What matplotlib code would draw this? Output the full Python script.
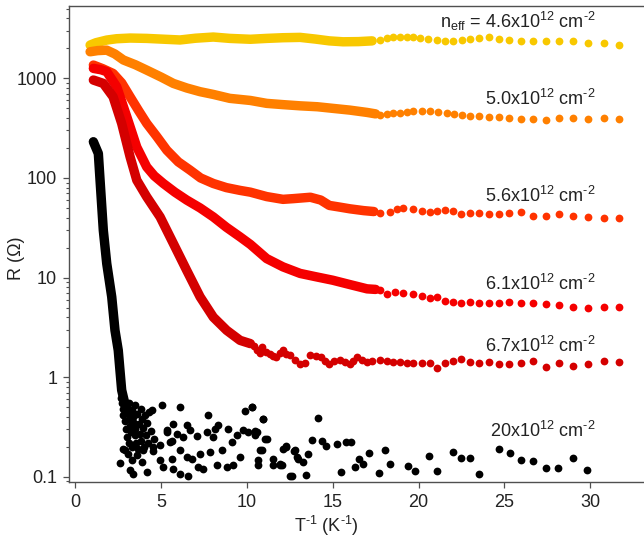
import matplotlib
matplotlib.use('Agg')
import matplotlib.pyplot as plt
from matplotlib.ticker import LogLocator, FixedLocator, FuncFormatter, NullFormatter

plt.rcParams['font.family'] = ['Liberation Sans', 'DejaVu Sans']
plt.rcParams['mathtext.fontset'] = 'custom'
plt.rcParams['mathtext.rm'] = 'Liberation Sans'
plt.rcParams['mathtext.it'] = 'Liberation Sans:italic'

# ---- data: T^-1 (1/K) vs R (Ohm) ----
# dense (overlapping) part of each curve
y46_x = [0.86, 1.2, 1.83, 2.4, 3.2, 4.16, 5.0, 6.1, 7.0, 8.04, 9.0, 10.2, 11.15, 12.1, 13.1, 14.0, 14.8, 15.6, 16.5, 17.3]
y46_r = [2160, 2280, 2425, 2500, 2540, 2520, 2480, 2430, 2530, 2600, 2520, 2470, 2520, 2560, 2580, 2480, 2380, 2330, 2340, 2380]
o50_x = [0.86, 1.3, 1.83, 2.3, 2.8, 3.5, 4.16, 5.0, 5.71, 6.5, 7.27, 8.04, 9.0, 10.2, 11.15, 12.1, 13.1, 14.1, 15.0, 16.0, 17.0, 17.5]
o50_r = [1850, 1900, 1920, 1760, 1530, 1370, 1210, 1030, 890, 800, 735, 690, 630, 600, 561, 545, 530, 519, 500, 480, 455, 440]
r56_x = [1.05, 1.6, 2.2, 2.7, 3.19, 3.7, 4.16, 4.75, 5.33, 6.0, 6.68, 7.3, 8.04, 8.8, 9.6, 10.2, 11.15, 12.1, 12.7, 13.7, 14.3, 14.8, 15.4, 16.0, 16.8, 17.4]
r56_r = [1360, 1250, 1120, 900, 653, 470, 353, 260, 190, 145, 120, 100, 88, 80, 75, 72, 65, 61, 62, 64, 60, 53, 51, 49, 47, 46]
r61_x = [1.05, 1.5, 1.83, 2.41, 3.0, 3.58, 4.16, 4.6, 5.13, 5.8, 6.49, 7.27, 8.04, 8.8, 9.6, 10.2, 11.15, 12.1, 13.1, 14.0, 15.0, 16.0, 17.0, 17.5]
r61_r = [1260, 1220, 1167, 824, 411, 204, 129, 105, 88, 72, 60, 50, 40.6, 32, 25.6, 21.5, 15.5, 12.8, 11.0, 10.2, 9.4, 8.5, 7.7, 7.6]
d67_x = [1.05, 1.63, 2.2, 2.7, 3.19, 3.58, 4.16, 4.94, 5.71, 6.49, 7.27, 8.04, 8.82, 9.6, 10.2]
d67_r = [962, 890, 653, 353, 163, 95, 64.6, 40.6, 22, 11.8, 6.4, 4.0, 2.95, 2.34, 2.17]
k20_x = [1.05, 1.34, 1.44, 1.63, 1.83, 2.12, 2.31, 2.5, 2.6, 2.7, 2.9]
k20_r = [231, 176, 95, 29.8, 13.8, 6.4, 2.95, 1.86, 1.17, 0.74, 0.53]

# separate points at low temperature
y46_tx = [17.75, 18.14, 18.53, 18.92, 19.3, 19.7, 20.08, 20.57, 21.06, 21.55, 22.03, 22.51,
          23.0, 23.54, 24.1, 24.7, 25.3, 26.0, 26.7, 27.4, 28.2, 29.0, 29.9, 30.8, 31.7]
y46_tr = [2425, 2523, 2585, 2620, 2620, 2585, 2560, 2500, 2425, 2390, 2390, 2425,
          2465, 2525, 2585, 2500, 2425, 2390, 2390, 2370, 2355, 2355, 2280, 2250, 2150]
o50_tx = [17.75, 18.14, 18.53, 18.92, 19.3, 19.7, 20.19, 20.67, 21.15, 21.64, 22.07, 22.52,
          23.0, 23.54, 24.1, 24.7, 25.3, 26.0, 26.7, 27.4, 28.2, 29.0, 29.9, 30.8, 31.7]
o50_tr = [428, 438, 445, 451, 458, 466, 472, 472, 461, 445, 434, 431,
          421, 418, 411, 411, 402, 393, 387, 384, 396, 396, 393, 396, 393]
r56_tx = [17.75, 18.33, 18.73, 19.11, 19.7, 20.19, 20.67, 21.06, 21.55, 22.03, 22.48,
          23.0, 23.54, 24.1, 24.7, 25.3, 26.0, 26.7, 27.4, 28.2, 29.0, 29.9, 30.8, 31.7]
r56_tr = [44.6, 45.6, 49.3, 50.5, 48.6, 46.7, 45.6, 46.7, 47.4, 46.7, 43.9,
          44.6, 44.6, 43.9, 43.3, 44.6, 45.3, 41.6, 41.6, 43.3, 41.3, 40.6, 39.7, 39.4]
r61_tx = [17.75, 18.15, 18.63, 19.11, 19.7, 20.19, 20.67, 21.06, 21.55, 22.0, 22.48,
          23.0, 23.54, 24.1, 24.7, 25.3, 26.0, 26.7, 27.4, 28.2, 29.0, 29.9, 30.8, 31.7]
r61_tr = [7.57, 6.9, 7.17, 7.0, 6.9, 6.49, 6.29, 6.38, 5.82, 5.69, 5.56,
          5.69, 5.56, 5.56, 5.56, 5.65, 5.56, 5.56, 5.48, 5.27, 5.07, 4.95, 5.07, 5.07]
d67_tx = [10.4, 10.57, 10.75, 10.9, 11.1, 11.35, 11.5, 11.7, 11.9, 12.1, 12.3, 12.5, 12.8, 13.1, 13.4,
          13.7, 14.0, 14.3, 14.55, 14.8, 15.1, 15.4, 15.7, 16.0, 16.2, 16.4, 16.7, 17.0, 17.3,
          17.75, 18.14, 18.53, 18.92, 19.3, 19.7, 20.19, 20.67, 21.1, 21.55, 22.0, 22.48,
          23.0, 23.54, 24.1, 24.7, 25.3, 26.0, 26.7, 27.4, 28.2, 29.0, 29.9, 30.8, 31.7]
d67_tr = [2.05, 1.86, 1.75, 2.0, 1.8, 1.72, 1.62, 1.59, 1.75, 1.86, 1.7, 1.65, 1.5, 1.37, 1.4,
          1.65, 1.62, 1.59, 1.45, 1.37, 1.45, 1.48, 1.42, 1.37, 1.45, 1.59, 1.5, 1.42, 1.45,
          1.50, 1.45, 1.43, 1.41, 1.39, 1.39, 1.40, 1.39, 1.23, 1.39, 1.45, 1.51,
          1.42, 1.39, 1.41, 1.34, 1.37, 1.39, 1.44, 1.26, 1.40, 1.28, 1.37, 1.44, 1.41]
k20_tx = [2.65, 2.7, 2.75, 2.8, 2.85, 2.9, 2.95, 3.0, 3.0, 3.05, 3.1, 3.1, 3.15, 3.2, 3.25, 3.3, 3.3,
          3.35, 3.4, 3.45, 3.5, 3.5, 3.55, 3.6, 3.65, 3.7, 3.75, 3.8, 3.85, 3.9, 3.95, 4.0, 4.05,
          4.1, 4.2, 4.25, 4.3, 4.4, 4.5, 4.6,
          2.6, 2.8, 2.9, 3.09, 3.19, 3.28, 3.38, 3.58, 3.87, 3.96, 4.16, 4.45, 4.55, 4.94, 5.03,
          5.13, 5.32, 5.52, 5.62, 5.71, 5.91, 6.1, 6.1, 6.49, 6.49, 6.59, 6.68, 6.78, 7.07, 7.17,
          7.27, 7.46, 7.65, 7.75, 7.85, 8.04, 8.14, 8.24, 8.33, 8.53, 8.82, 8.92, 9.11, 9.21,
          9.4, 9.6, 9.79, 9.89, 10.08, 10.28, 10.47, 10.67, 10.76, 10.96, 11.15, 11.54, 11.93,
          12.12, 12.51, 12.8, 13.0, 5.32, 5.71, 6.3, 4.94, 5.62, 6.1,
          10.28, 10.92, 10.45, 10.6, 11.05, 10.86, 10.66, 11.5, 11.9, 12.28,
          14.16, 12.28, 13.77, 14.36, 14.61, 15.27, 15.78, 16.05, 12.74, 12.9, 13.25, 13.58,
          12.03, 12.61, 13.42, 15.5, 16.28, 16.55, 16.79, 17.1, 18.03, 18.34, 17.68, 19.41,
          19.8, 20.63, 21.06, 22.0, 22.48, 23.0, 23.53, 24.71, 25.33, 25.97, 26.65, 27.43,
          28.14, 28.98, 29.84]
k20_tr = [0.62, 0.55, 0.48, 0.42, 0.58, 0.36, 0.30, 0.50, 0.25, 0.44, 0.22, 0.38, 0.55, 0.32, 0.28, 0.47, 0.20,
          0.40, 0.35, 0.26, 0.52, 0.30, 0.22, 0.43, 0.19, 0.34, 0.27, 0.48, 0.23, 0.38, 0.31, 0.20, 0.42,
          0.26, 0.35, 0.22, 0.45, 0.29, 0.18, 0.24,
          0.137, 0.191, 0.184, 0.170, 0.116, 0.146, 0.107, 0.164, 0.140, 0.184, 0.111, 0.464, 0.198, 0.206, 0.520,
          0.125, 0.281, 0.223, 0.151, 0.120, 0.270, 0.501, 0.184, 0.157, 0.327, 0.101, 0.292, 0.151, 0.254, 0.125,
          0.170, 0.120, 0.281, 0.419, 0.177, 0.250, 0.303, 0.130, 0.327, 0.184, 0.125, 0.303, 0.223, 0.130,
          0.260, 0.157, 0.292, 0.456, 0.281, 0.501, 0.260, 0.148, 0.184, 0.376, 0.240, 0.151, 0.130,
          0.191, 0.101, 0.184, 0.151, 0.292, 0.340, 0.250, 0.148, 0.231, 0.107,
          0.50, 0.383, 0.29, 0.28, 0.241, 0.184, 0.130, 0.13, 0.135, 0.20,
          0.392, 0.203, 0.232, 0.226, 0.202, 0.211, 0.223, 0.225, 0.180, 0.158, 0.140, 0.168,
          0.130, 0.101, 0.105, 0.111, 0.125, 0.149, 0.135, 0.174, 0.184, 0.133, 0.109, 0.127,
          0.114, 0.160, 0.114, 0.177, 0.155, 0.155, 0.107, 0.191, 0.174, 0.146, 0.143, 0.122,
          0.122, 0.154, 0.116]

HY = '\u2010'  # plain hyphen instead of the mathtext minus
labels = [r'$\mathregular{n_{eff}}$ = 4.6x10$^{12}$ cm$^{' + HY + '2}$',
          r'5.0x10$^{12}$ cm$^{' + HY + '2}$',
          r'5.6x10$^{12}$ cm$^{' + HY + '2}$',
          r'6.1x10$^{12}$ cm$^{' + HY + '2}$',
          r'6.7x10$^{12}$ cm$^{' + HY + '2}$',
          r'20x10$^{12}$ cm$^{' + HY + '2}$']
label_r = [3203, 540, 57.1, 7.45, 1.77, 0.248]
x_ticks = [0, 5, 10, 15, 20, 25, 30]
y_ticks = [0.1, 1, 10, 100, 1000]

colors = ['#f8c800', '#ff8000', '#ff3300', '#f50000', '#d40000', '#000000']

fig = plt.figure(figsize=(6.44, 5.42), dpi=100)
ax = fig.add_axes([69 / 644, 60 / 542, 575 / 644, 476 / 542])

dense = [(y46_x, y46_r), (o50_x, o50_r), (r56_x, r56_r), (r61_x, r61_r), (d67_x, d67_r), (k20_x, k20_r)]
tails = [(y46_tx, y46_tr), (o50_tx, o50_tr), (r56_tx, r56_tr), (r61_tx, r61_tr), (d67_tx, d67_tr), (k20_tx, k20_tr)]
for (dx, dr), (tx, tr), c in zip(dense, tails, colors):
    ax.plot(dx, dr, '-', color=c, lw=6.8, solid_capstyle='round', solid_joinstyle='round')
    ax.plot(tx, tr, 'o', color=c, ms=5.6, mew=0)

for txt, yr in zip(labels, label_r):
    ax.text(30.3, yr, txt, ha='right', va='baseline', fontsize=13, color='#222222')

ax.set_yscale('log')
ax.set_xlim(-0.37, 33.14)
ax.set_ylim(0.0885, 5330)

ax.xaxis.set_major_locator(FixedLocator(x_ticks))
ax.yaxis.set_major_locator(FixedLocator(y_ticks))
ax.yaxis.set_major_formatter(FuncFormatter(lambda v, p: '%g' % v))
ax.yaxis.set_minor_locator(LogLocator(base=10, subs=range(2, 10), numticks=20))
ax.yaxis.set_minor_formatter(NullFormatter())

for s in ['left', 'bottom', 'top']:
    ax.spines[s].set_color('#505050')
    ax.spines[s].set_linewidth(1.0)
ax.spines['right'].set_visible(False)
ax.tick_params(which='major', length=4.5, width=0.9, color='#505050', labelsize=13,
               labelcolor='#222222', pad=4)
ax.tick_params(which='minor', length=2.3, width=0.8, color='#505050')

ax.set_xlabel(r'T$^{' + HY + '1}$ (K$^{' + HY + '1}$)', fontsize=13, color='#222222')
ax.set_ylabel('R (Ω)', fontsize=13, color='#222222')
ax.xaxis.set_label_coords(0.447, -0.068)
ax.yaxis.set_label_coords(-0.077, 0.47)

fig.savefig('out.png', dpi=100)
